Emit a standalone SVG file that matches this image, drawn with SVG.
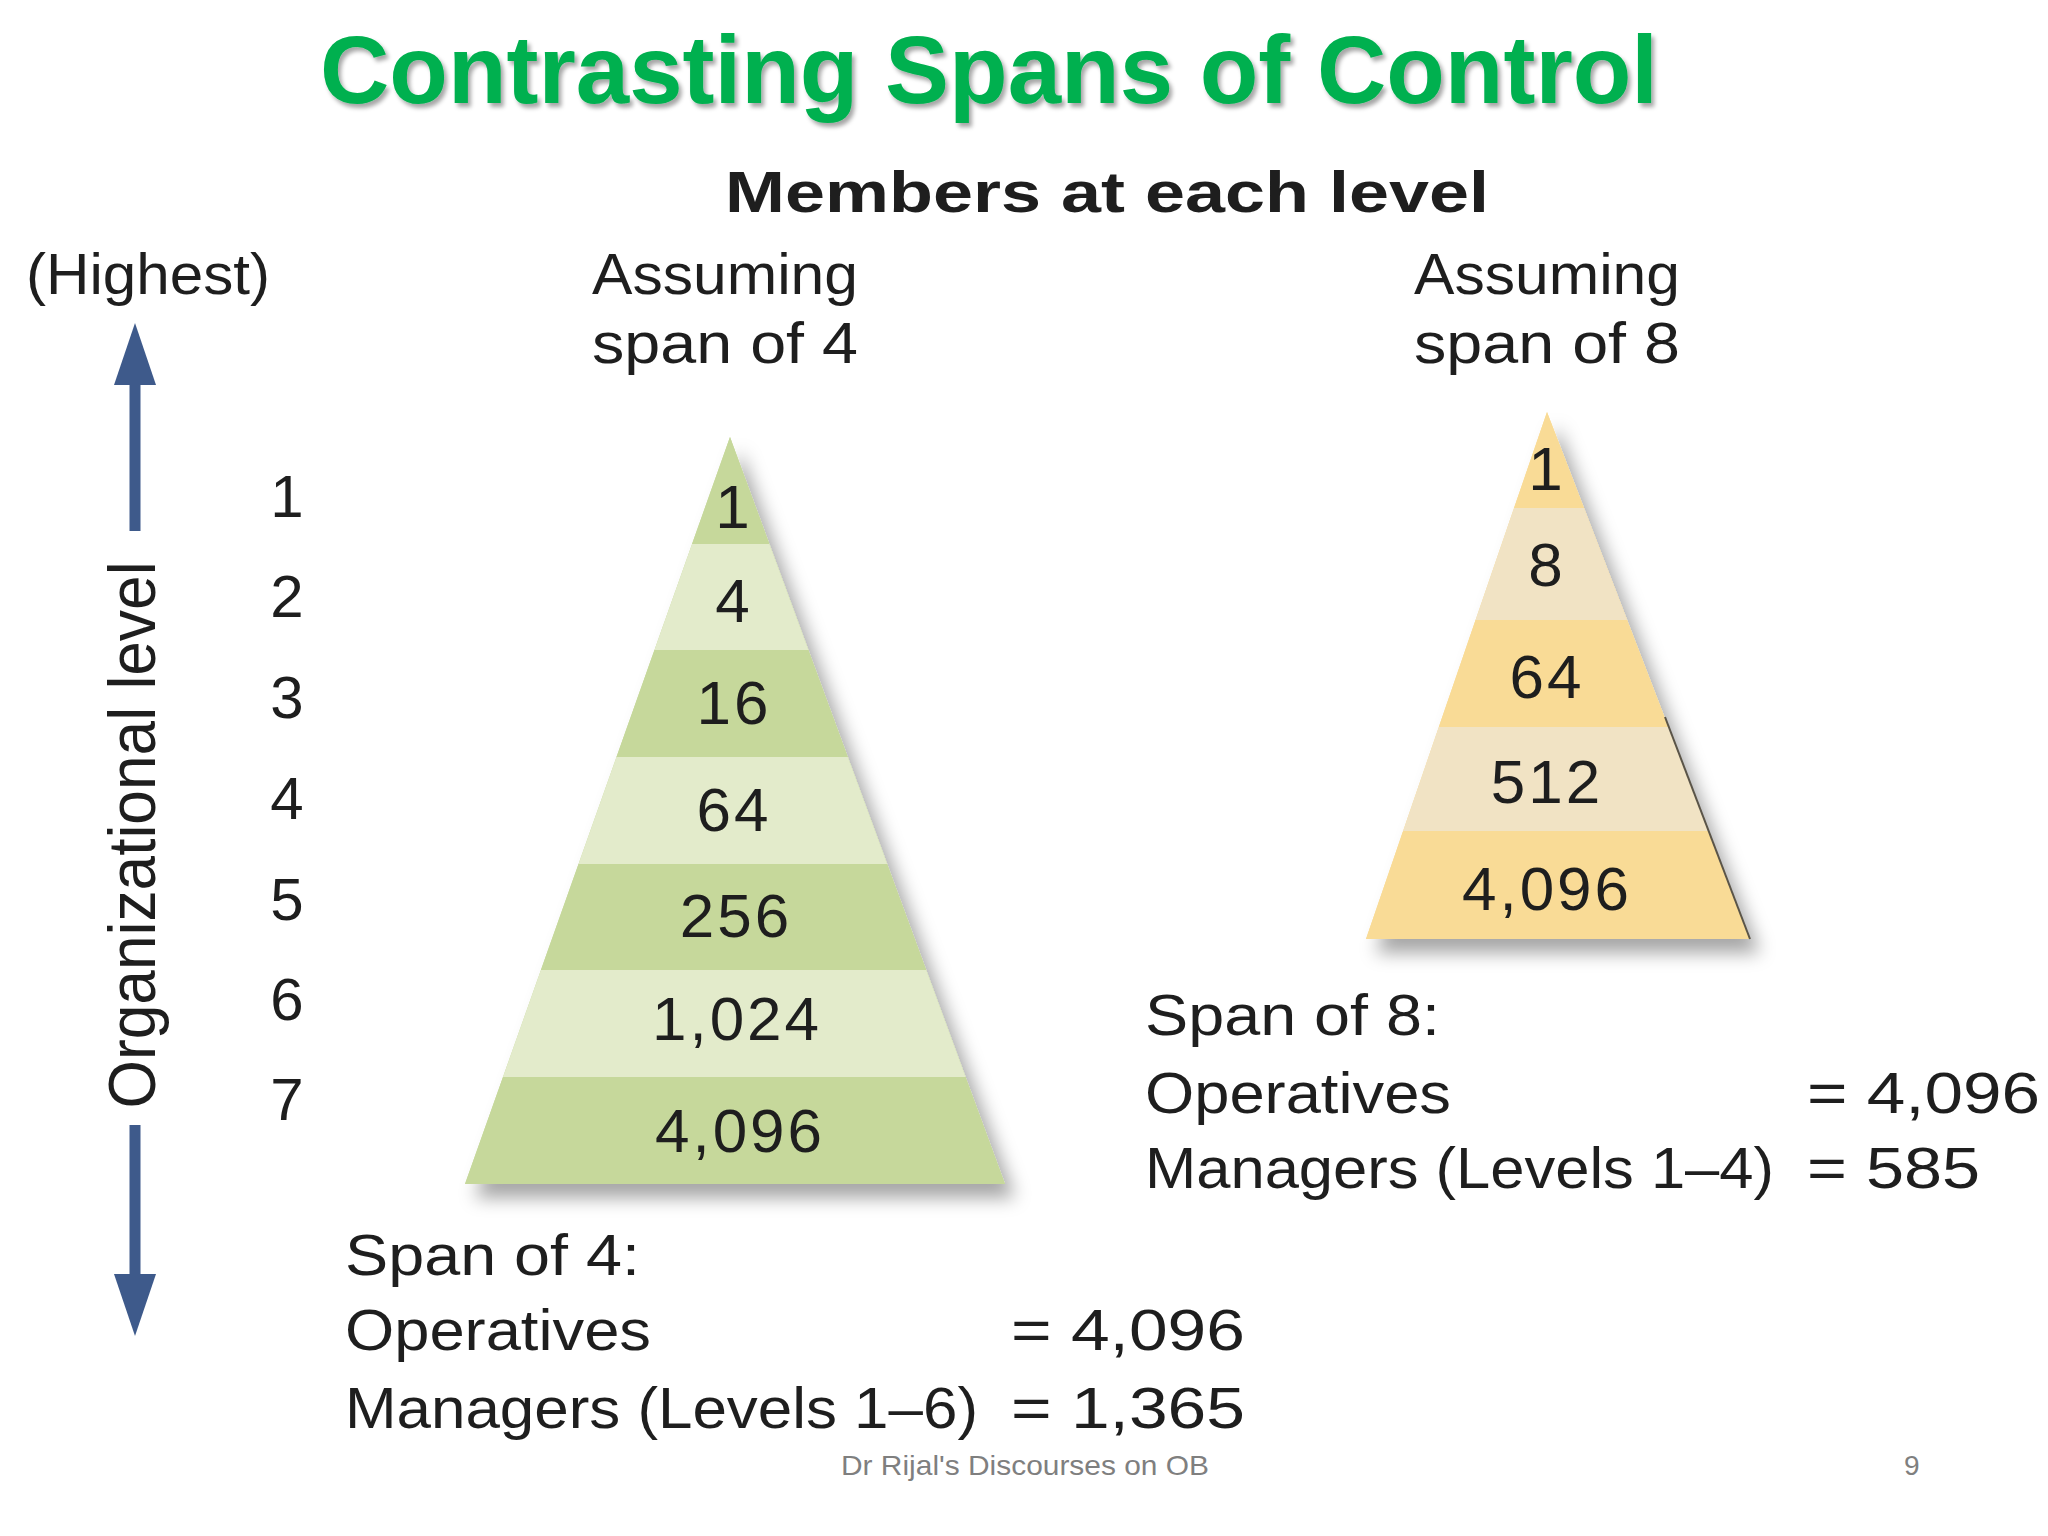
<svg xmlns="http://www.w3.org/2000/svg" width="2048" height="1536" viewBox="0 0 2048 1536">
  <style>
    .t { font-family: "Liberation Sans", Arial, sans-serif; fill: #1e1e1e; }
    .num { font-family: "Liberation Sans", Arial, sans-serif; fill: #1e1e1e; font-size: 62px; letter-spacing: 3px; text-anchor: middle; }
    .lvl { font-family: "Liberation Sans", Arial, sans-serif; fill: #1e1e1e; font-size: 60px; text-anchor: middle; }
    .body { font-size: 58px; }
    .gd { fill: #C6D89B; }
    .gl { fill: #E3EBCB; }
    .od { fill: #F9DB96; }
    .ol { fill: #F1E3C4; }
    .axis { stroke: #3E5A8B; stroke-width: 11; fill: none; }
  </style>
  <defs>
    <filter id="shadow" x="-20%" y="-10%" width="150%" height="130%">
      <feDropShadow dx="10" dy="14" stdDeviation="9" flood-color="#000" flood-opacity="0.35"/>
    </filter>
    <filter id="tshadow" x="-5%" y="-20%" width="110%" height="150%">
      <feDropShadow dx="3" dy="4" stdDeviation="2" flood-color="#000" flood-opacity="0.35"/>
    </filter>
    <clipPath id="clipG">
      <polygon points="730,437 465,1184 1005,1184"/>
    </clipPath>
    <clipPath id="clipO">
      <polygon points="1547,412 1366,939 1750,939"/>
    </clipPath>
    <marker id="head" markerUnits="userSpaceOnUse" markerWidth="64" markerHeight="44" refX="0" refY="21" orient="auto" viewBox="0 0 64 42">
      <path d="M0,0 L62,21 L0,42 Z" fill="#3E5A8B"/>
    </marker>
  </defs>

  <rect width="2048" height="1536" fill="#FFFFFF"/>

  <text id="title" class="t" x="320" y="103" font-size="96" font-weight="bold" textLength="1338" lengthAdjust="spacingAndGlyphs" style="fill:#00B050" filter="url(#tshadow)">Contrasting Spans of Control</text>

  <text id="members" class="t" x="725" y="212" font-size="58" font-weight="bold" textLength="764" lengthAdjust="spacingAndGlyphs">Members at each level</text>

  <g id="axis-label">
    <text class="t body" x="26" y="294" textLength="244" lengthAdjust="spacingAndGlyphs">(Highest)</text>
    <text class="t" font-size="66" text-anchor="middle" transform="translate(155 835) rotate(-90)" x="0" y="0" textLength="547" lengthAdjust="spacingAndGlyphs">Organizational level</text>
  </g>

  <g id="connectors">
    <line class="axis" x1="135" y1="531" x2="135" y2="385" marker-end="url(#head)"/>
    <line class="axis" x1="135" y1="1125" x2="135" y2="1274" marker-end="url(#head)"/>
  </g>

  <g id="levels">
    <text class="lvl" x="287" y="517">1</text>
    <text class="lvl" x="287" y="617">2</text>
    <text class="lvl" x="287" y="718">3</text>
    <text class="lvl" x="287" y="819">4</text>
    <text class="lvl" x="287" y="920">5</text>
    <text class="lvl" x="287" y="1020">6</text>
    <text class="lvl" x="287" y="1120">7</text>
  </g>

  <g id="pyramid-span4">
    <text class="t body" x="592" y="294" textLength="266" lengthAdjust="spacingAndGlyphs">Assuming</text>
    <text class="t body" x="592" y="363" textLength="266" lengthAdjust="spacingAndGlyphs">span of 4</text>
    <polygon class="gd" points="730,437 465,1184 1005,1184" filter="url(#shadow)"/>
    <g clip-path="url(#clipG)">
      <rect class="gd" x="400" y="437" width="700" height="107"/>
      <rect class="gl" x="400" y="544" width="700" height="106"/>
      <rect class="gd" x="400" y="650" width="700" height="107"/>
      <rect class="gl" x="400" y="757" width="700" height="107"/>
      <rect class="gd" x="400" y="864" width="700" height="106"/>
      <rect class="gl" x="400" y="970" width="700" height="107"/>
      <rect class="gd" x="400" y="1077" width="700" height="107"/>
    </g>
    <text class="num" x="734" y="528">1</text>
    <text class="num" x="734" y="622">4</text>
    <text class="num" x="734" y="724">16</text>
    <text class="num" x="734" y="831">64</text>
    <text class="num" x="736" y="937">256</text>
    <text class="num" x="737" y="1040">1,024</text>
    <text class="num" x="740" y="1152">4,096</text>
  </g>

  <g id="pyramid-span8">
    <text class="t body" x="1414" y="294" textLength="266" lengthAdjust="spacingAndGlyphs">Assuming</text>
    <text class="t body" x="1414" y="363" textLength="266" lengthAdjust="spacingAndGlyphs">span of 8</text>
    <polygon class="od" points="1547,412 1366,939 1750,939" filter="url(#shadow)"/>
    <g clip-path="url(#clipO)">
      <rect class="od" x="1300" y="403" width="500" height="105"/>
      <rect class="ol" x="1300" y="508" width="500" height="112"/>
      <rect class="od" x="1300" y="620" width="500" height="107"/>
      <rect class="ol" x="1300" y="727" width="500" height="104"/>
      <rect class="od" x="1300" y="831" width="500" height="108"/>
    </g>
    <line x1="1665" y1="717" x2="1750" y2="939" stroke="#5a5448" stroke-width="2"/>
    <text class="num" x="1547" y="490">1</text>
    <text class="num" x="1547" y="586">8</text>
    <text class="num" x="1547" y="698">64</text>
    <text class="num" x="1547" y="803">512</text>
    <text class="num" x="1547" y="910">4,096</text>
  </g>

  <g id="summary-span8">
    <text class="t body" x="1145" y="1035" textLength="295" lengthAdjust="spacingAndGlyphs">Span of 8:</text>
    <text class="t body" x="1145" y="1113" textLength="306" lengthAdjust="spacingAndGlyphs">Operatives</text>
    <text class="t body" x="1807" y="1113" textLength="233" lengthAdjust="spacingAndGlyphs">= 4,096</text>
    <text class="t body" x="1145" y="1188" textLength="629" lengthAdjust="spacingAndGlyphs">Managers (Levels 1–4)</text>
    <text class="t body" x="1807" y="1188" textLength="173" lengthAdjust="spacingAndGlyphs">= 585</text>
  </g>

  <g id="summary-span4">
    <text class="t body" x="345" y="1275" textLength="295" lengthAdjust="spacingAndGlyphs">Span of 4:</text>
    <text class="t body" x="345" y="1350" textLength="306" lengthAdjust="spacingAndGlyphs">Operatives</text>
    <text class="t body" x="1011" y="1350" textLength="234" lengthAdjust="spacingAndGlyphs">= 4,096</text>
    <text class="t body" x="345" y="1428" textLength="633" lengthAdjust="spacingAndGlyphs">Managers (Levels 1–6)</text>
    <text class="t body" x="1011" y="1428" textLength="234" lengthAdjust="spacingAndGlyphs">= 1,365</text>
  </g>

  <g id="footer">
    <text class="t" x="841" y="1475" font-size="28" textLength="368" lengthAdjust="spacingAndGlyphs" style="fill:#7F7F7F">Dr Rijal's Discourses on OB</text>
    <text class="t" x="1904" y="1475" font-size="28" style="fill:#7F7F7F">9</text>
  </g>
</svg>
